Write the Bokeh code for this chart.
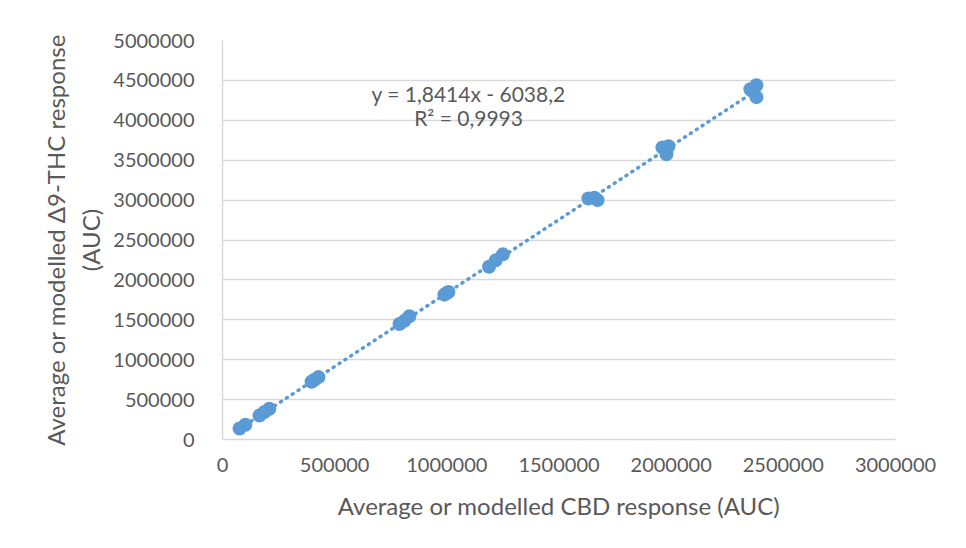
from bokeh.plotting import figure
from bokeh.embed import file_html
from bokeh.resources import INLINE
from bokeh.models import ColumnDataSource, Label, FixedTicker, CustomJSTickFormatter

# Data
cbd_response = [76000, 102000,
                165000, 187000, 209000,
                397000, 410000, 428000,
                789000, 811000, 833000,
                989000, 998000, 1007000,
                1188000, 1218000, 1250000,
                1631000, 1658000, 1672000,
                1961000, 1979000, 1988000,
                2353000, 2380000, 2380000]
thc_response = [137000, 185000,
                300000, 345000, 385000,
                724000, 749000, 782000,
                1447000, 1487000, 1545000,
                1815000, 1832000, 1848000,
                2165000, 2245000, 2320000,
                3020000, 3030000, 3000000,
                3660000, 3575000, 3675000,
                4390000, 4440000, 4290000]
slope = 1.8414
intercept = -6038.2
equation_text = "y = 1,8414x - 6038,2"
r2_text = "R² = 0,9993"
x_ticks = [0, 500000, 1000000, 1500000, 2000000, 2500000, 3000000]
y_ticks = [0, 500000, 1000000, 1500000, 2000000, 2500000, 3000000, 3500000, 4000000, 4500000, 5000000]

BLUE = "#5B9BD5"
GRAY_TEXT = "#595959"
GRID = "#D9D9D9"
FONT = "Lato"

p = figure(width=950, height=540, output_backend="svg", toolbar_location=None,
           x_range=(0, 3000000), y_range=(0, 5000000),
           min_border_left=222, min_border_right=55, min_border_top=40, min_border_bottom=101)
p.outline_line_color = None
p.background_fill_color = "white"
p.border_fill_color = "white"

# trendline
xmin, xmax = min(cbd_response), max(cbd_response)
tl = ColumnDataSource(dict(x=[xmin, xmax], y=[slope * xmin + intercept, slope * xmax + intercept]))
p.line("x", "y", source=tl, line_color=BLUE, line_width=3.5, line_dash="1 6", line_cap="round")

src = ColumnDataSource(dict(x=cbd_response, y=thc_response))
p.scatter("x", "y", source=src, size=14, fill_color=BLUE, line_color=BLUE, line_width=0)

# axes
p.xaxis.ticker = FixedTicker(ticks=x_ticks)
p.yaxis.ticker = FixedTicker(ticks=y_ticks)
fmt = CustomJSTickFormatter(code="return tick.toFixed(0);")
p.xaxis.formatter = fmt
p.yaxis.formatter = fmt
for ax in (p.xaxis, p.yaxis):
    ax.major_tick_line_color = None
    ax.minor_tick_line_color = None
    ax.axis_line_color = GRID
    ax.axis_line_width = 1.5
    ax.major_label_text_font = FONT
    ax.major_label_text_font_size = "20px"
    ax.major_label_text_color = GRAY_TEXT
    ax.axis_label_text_font = FONT
    ax.axis_label_text_font_size = "24px"
    ax.axis_label_text_color = GRAY_TEXT
    ax.axis_label_text_font_style = "normal"
p.xaxis.major_label_standoff = 12
p.yaxis.major_label_standoff = 22
p.xaxis.axis_label = "Average or modelled CBD response (AUC)"
p.yaxis.axis_label = "Average or modelled Δ9-THC response\n(AUC)"
p.xaxis.axis_label_standoff = 16
p.yaxis.axis_label_standoff = 5

p.xgrid.grid_line_color = None
p.ygrid.grid_line_color = GRID
p.ygrid.grid_line_width = 1.5

p.add_layout(Label(x=1097000, y=4340000, text=equation_text, text_align="center",
                   text_baseline="middle", text_font=FONT, text_font_size="21px",
                   text_color=GRAY_TEXT))
p.add_layout(Label(x=1097000, y=4030000, text=r2_text, text_align="center",
                   text_baseline="middle", text_font=FONT, text_font_size="21px",
                   text_color=GRAY_TEXT))

open("out.html", "w").write(file_html(p, INLINE))
